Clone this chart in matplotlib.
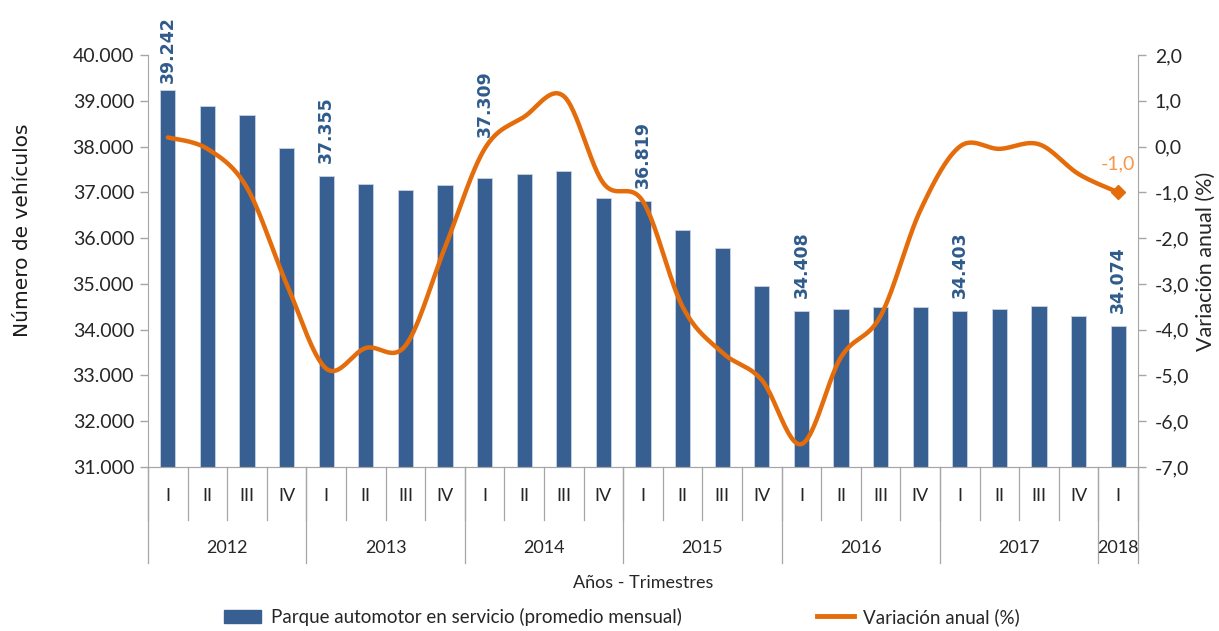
import matplotlib.pyplot as plt
import numpy as np
from matplotlib.patches import Rectangle
from matplotlib.lines import Line2D
import matplotlib.transforms as mtransforms

plt.rcParams['font.family'] = ['Lato', 'DejaVu Sans']

# Data
quarters = ['I', 'II', 'III', 'IV'] * 6 + ['I']
years = ['2012', '2013', '2014', '2015', '2016', '2017', '2018']
year_len = [4, 4, 4, 4, 4, 4, 1]
parque = [39242, 38890, 38690, 37970, 37355, 37180, 37050, 37150,
          37309, 37410, 37460, 36870, 36819, 36180, 35790, 34950,
          34408, 34460, 34490, 34490, 34403, 34460, 34520, 34290, 34074]
variacion = [0.2, -0.05, -0.9, -3.0, -4.85, -4.4, -4.35, -2.2,
             -0.05, 0.65, 1.1, -0.8, -1.2, -3.5, -4.5, -5.1,
             -6.5, -4.6, -3.7, -1.4, 0.0, -0.05, 0.05, -0.6, -1.0]
labeled = [0, 4, 8, 12, 16, 20, 24]
label_gap = [7, 13, 41, 13, 13, 13, 13]  # pixels above bar top

bar_color = '#385f92'
line_color = '#e46c0a'
label_blue = '#2f5b8c'
grey = '#a6a6a6'
txt = '#262626'


def smooth(x, y, n=30):
    # Catmull-Rom style bezier, like Excel's smoothed line
    x = np.asarray(x, float)
    y = np.asarray(y, float)
    px = np.concatenate([[x[0]], x, [x[-1]]])
    py = np.concatenate([[y[0]], y, [y[-1]]])
    xs, ys = [], []
    t = np.linspace(0, 1, n)
    for i in range(1, len(px) - 2):
        p0 = np.array([px[i], py[i]])
        p3 = np.array([px[i + 1], py[i + 1]])
        c1 = p0 + (np.array([px[i + 1], py[i + 1]]) - np.array([px[i - 1], py[i - 1]])) / 6
        c2 = p3 - (np.array([px[i + 2], py[i + 2]]) - np.array([px[i], py[i]])) / 6
        b = ((1 - t) ** 3)[:, None] * p0 + (3 * (1 - t) ** 2 * t)[:, None] * c1 \
            + (3 * (1 - t) * t ** 2)[:, None] * c2 + (t ** 3)[:, None] * p3
        xs.append(b[:, 0])
        ys.append(b[:, 1])
    return np.concatenate(xs), np.concatenate(ys)


fig = plt.figure(figsize=(12.19, 6.31), dpi=100)
W, H = 1219, 631
ax = fig.add_axes([148 / W, 1 - 467 / H, (1138 - 148) / W, (467 - 55) / H])
ax2 = ax.twinx()

x = np.arange(len(parque))
ax.bar(x, parque, width=0.38, color=bar_color, edgecolor='#c9d3e3', linewidth=0.6, zorder=2)
ax.set_ylim(31000, 40000)
ax.set_xlim(-0.5, len(parque) - 0.5)
ax.set_yticks(np.arange(31000, 40001, 1000))
ax.set_yticklabels([f'{v:,}'.replace(',', '.') for v in range(31000, 40001, 1000)])
ax.set_xticks([])

px_per_unit = (467 - 55) / 9000
for i, gap in zip(labeled, label_gap):
    ax.text(x[i], parque[i] + gap / px_per_unit, f'{parque[i]:,}'.replace(',', '.'), rotation=90,
            ha='center', va='bottom', color=label_blue, fontsize=12.5, fontweight='bold',
            family='DejaVu Sans')

sx, sy = smooth(x, variacion)
ax2.plot(sx, sy, color=line_color, lw=3.2, solid_capstyle='round', zorder=3)
ax2.plot(x[-1], variacion[-1], marker='D', color=line_color, markersize=7, zorder=4)
ax2.text(x[-1], variacion[-1] + 0.62, '-1,0', color='#f79646', fontsize=14,
         ha='center', va='center')
ax2.set_ylim(-7, 2)
ax2.set_yticks(np.arange(-7, 2.1, 1))
ax2.set_yticklabels([f'{v:.1f}'.replace('.', ',') for v in np.arange(-7, 2.1, 1)])

for a in (ax, ax2):
    a.spines['top'].set_visible(False)
    for s in ('left', 'right', 'bottom'):
        a.spines[s].set_color(grey)
    a.tick_params(axis='y', colors=grey, labelcolor=txt, labelsize=14, length=6, width=1)
ax.spines['right'].set_visible(False)
ax2.spines['left'].set_visible(False)
ax.tick_params(axis='y', pad=4)
ax2.tick_params(axis='y', pad=6)

ax.set_ylabel('Número de vehículos', fontsize=14.5, color='#1a1a1a', family='DejaVu Sans')
ax.yaxis.set_label_coords(-0.117, 0.575)
ax2.set_ylabel('Variación anual (%)', fontsize=15.5, color=txt, labelpad=5)

# Multi-level category axis
trans = mtransforms.blended_transform_factory(ax.transData, ax.transAxes)
axh = 467 - 55
q_bot = -(520 - 467) / axh
y_bot = -(563 - 467) / axh
for k in range(len(parque) + 1):
    ax.plot([k - 0.5, k - 0.5], [0, q_bot], transform=trans, color=grey, lw=0.9, clip_on=False)
for i, q in enumerate(quarters):
    ax.text(i, -(496 - 467) / axh, q, transform=trans, ha='center', va='center',
            fontsize=13, color=txt)
start = 0
bounds = [0]
for yr, n in zip(years, year_len):
    ax.text(start + (n - 1) / 2, -(548 - 467) / axh, yr, transform=trans, ha='center',
            va='center', fontsize=13, color=txt)
    start += n
    bounds.append(start)
for b in bounds:
    ax.plot([b - 0.5, b - 0.5], [0, y_bot], transform=trans, color=grey, lw=0.9, clip_on=False)

fig.text((148 + 1138) / 2 / W, 1 - 583 / H, 'Años - Trimestres', ha='center', va='center',
         fontsize=13, color=txt)

handles = [Rectangle((0, 0), 1, 1, color=bar_color),
           Line2D([0], [0], color=line_color, lw=3.5)]
fig.legend(handles, ['Parque automotor en servicio (promedio mensual)', 'Variación anual (%)'],
           loc='center', bbox_to_anchor=(622 / W, 1 - 617 / H), ncol=2, frameon=False,
           fontsize=13.5, columnspacing=7.2, handlelength=2.0, handletextpad=0.5,
           labelcolor=txt)

fig.savefig('out.png', dpi=100)
